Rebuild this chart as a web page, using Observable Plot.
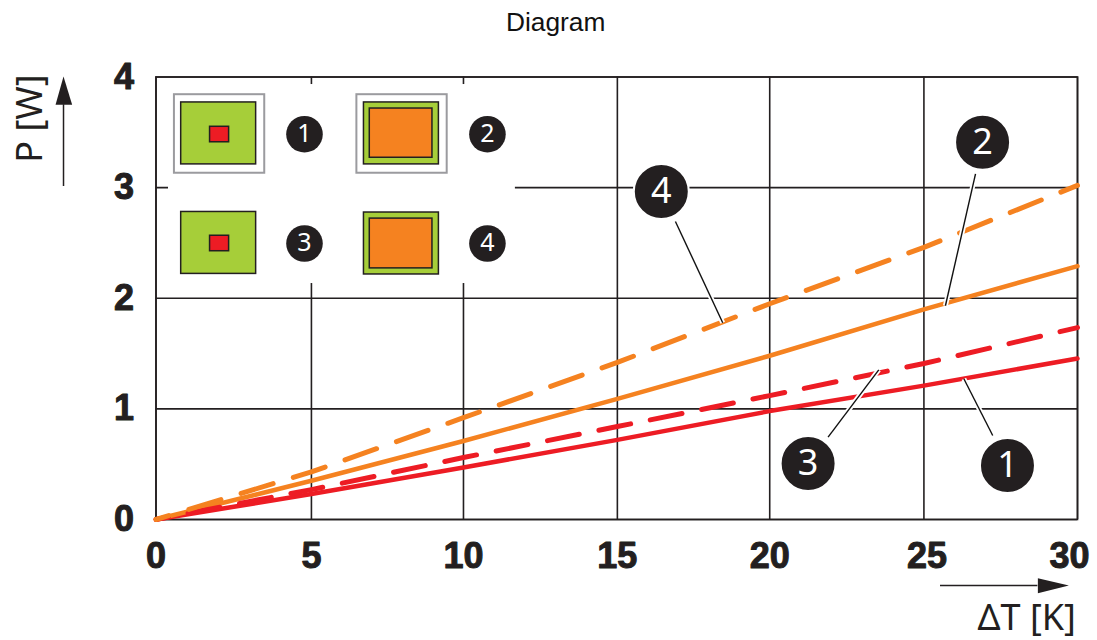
<!DOCTYPE html>
<html><head><meta charset="utf-8">
<script src="https://cdn.jsdelivr.net/npm/d3@7"></script>
<script src="https://cdn.jsdelivr.net/npm/@observablehq/plot@0.6"></script>
<style>
html,body{margin:0;padding:0;background:#fff;overflow:hidden}
#title{height:40px;padding-left:506px;font:26.3px/44px "Liberation Sans",Arial,sans-serif;color:#111;box-sizing:border-box}
svg{display:block}
</style></head><body>
<div id="title">Diagram</div>
<div id="chart"></div>
<script>
const deltaT = [0, 5, 10, 15, 20, 25, 30];
const xGridAsDrawn = [0, 5.06, 10.01, 15.02, 19.98, 25, 30];
const curve1 = [0, 0.23, 0.47, 0.72, 0.98, 1.21, 1.455];
const curve2 = [0, 0.35, 0.71, 1.09, 1.48, 1.90, 2.29];
const curve3 = [0, 0.27, 0.56, 0.84, 1.12, 1.41, 1.735];
const curve4 = [0, 0.43, 0.92, 1.42, 1.95, 2.46, 3.02];
const yTicks = [0, 1, 2, 3, 4];

const dark = "#231f20", red = "#ed1c24", orange = "#f58220", green = "#a6ce39", grey = "#9b9b9f";
const ser = v => deltaT.map((x, i) => ({x: xGridAsDrawn[i], y: v[i]}));

// inset legend, in chart units
const outerBoxes = [{x1: 0.60, x2: 3.54, y1: 3.13, y2: 3.84}, {x1: 6.54, x2: 9.48, y1: 3.13, y2: 3.84}];
const boardBoxes = [
  {x1: 0.82, x2: 3.26, y1: 3.21, y2: 3.77}, {x1: 6.77, x2: 9.21, y1: 3.21, y2: 3.77},
  {x1: 0.82, x2: 3.26, y1: 2.22, y2: 2.78}, {x1: 6.77, x2: 9.21, y1: 2.215, y2: 2.775}];
const chipBoxes = [
  {x1: 1.76, x2: 2.38, y1: 3.41, y2: 3.55, c: red}, {x1: 6.96, x2: 9.0, y1: 3.27, y2: 3.715, c: orange},
  {x1: 1.76, x2: 2.38, y1: 2.425, y2: 2.565, c: red}, {x1: 6.96, x2: 9.0, y1: 2.27, y2: 2.72, c: orange}];
const legendMask = [{x1: 0.407, x2: 11.7, y1: 2.133, y2: 3.932}];
const legendBadges = [
  {x: 4.834, y: 3.483, t: "1"}, {x: 10.79, y: 3.483, t: "2"},
  {x: 4.834, y: 2.495, t: "3"}, {x: 10.79, y: 2.495, t: "4"}];
const callouts = [
  {x: 27.72, y: 0.488, t: "1"}, {x: 26.91, y: 3.41, t: "2"},
  {x: 21.23, y: 0.506, t: "3"}, {x: 16.45, y: 2.965, t: "4"}];
const leaders = [
  {x1: 27.24, y1: 0.759, x2: 26.30, y2: 1.272}, {x1: 26.68, y1: 3.125, x2: 25.70, y2: 1.932},
  {x1: 21.88, y1: 0.744, x2: 23.53, y2: 1.353}, {x1: 16.91, y1: 2.694, x2: 18.45, y2: 1.778}];
const yArrowHead = [{x: -3.27, y: 3.75}, {x: -3.011, y: 4.005}, {x: -2.73, y: 3.75}];
const xArrowHead = [{x: 28.71, y: -0.531}, {x: 29.72, y: -0.597}, {x: 28.71, y: -0.666}];

const rectOf = (d, o) => Plot.rect(d, {x1: "x1", x2: "x2", y1: "y1", y2: "y2", ...o});
const lineOf = (v, o) => Plot.line(ser(v), {x: "x", y: "y", strokeWidth: 4.5, ...o});
const tickOpts = {tickSize: 0, fontSize: 36, fontWeight: 700, textStroke: dark, textStrokeWidth: 1, fill: dark, label: null, tickFormat: "d"};

const chart = Plot.plot({
  width: 1097, height: 600,
  marginLeft: 155.5, marginRight: 20, marginTop: 36.5, marginBottom: 121,
  style: {fontFamily: "'Liberation Sans',Arial,sans-serif", background: "#fff", overflow: "visible"},
  x: {domain: [0, 30]},
  y: {domain: [0, 4]},
  marks: [
    Plot.ruleX(xGridAsDrawn, {stroke: dark, strokeWidth: 1.6}),
    Plot.ruleY(yTicks, {stroke: dark, strokeWidth: 1.6}),
    rectOf(legendMask, {fill: "#fff"}),
    Plot.frame({stroke: dark, strokeWidth: 1.6}),
    Plot.axisX({...tickOpts, ticks: xGridAsDrawn.slice(0, 5), tickPadding: 23}),
    Plot.axisX({...tickOpts, ticks: [25], tickPadding: 23, dx: 3}),
    Plot.axisX({...tickOpts, ticks: [30], tickPadding: 23, dx: -8}),
    Plot.axisY({...tickOpts, ticks: yTicks, tickPadding: 22}),

    lineOf(curve1, {stroke: red}),
    lineOf(curve2, {stroke: orange}),
    lineOf(curve3, {stroke: red, strokeWidth: 5, strokeDasharray: "32.4 20", strokeLinecap: "round", strokeDashoffset: 19.8}),
    lineOf(curve4, {stroke: orange, strokeWidth: 5, strokeDasharray: "33.5 21.1", strokeLinecap: "round", strokeDashoffset: 20.2}),

    Plot.link(leaders, {x1: "x1", y1: "y1", x2: "x2", y2: "y2", stroke: "#fff", strokeWidth: 5}),
    Plot.link(leaders, {x1: "x1", y1: "y1", x2: "x2", y2: "y2", stroke: "#111", strokeWidth: 1.4}),

    rectOf(outerBoxes, {fill: "#fff", stroke: grey, strokeWidth: 2}),
    rectOf(boardBoxes, {fill: green, stroke: dark, strokeWidth: 1.5}),
    rectOf(chipBoxes, {fill: "c", stroke: dark, strokeWidth: 1.5}),

    Plot.dot(legendBadges, {x: "x", y: "y", r: 18.3, fill: dark}),
    Plot.text(legendBadges, {x: "x", y: "y", text: "t", fill: "#fff", fontSize: 25, fontFamily: "'Noto Sans'"}),
    Plot.dot(callouts, {x: "x", y: "y", r: 27.5, fill: dark, stroke: "#fff", strokeWidth: 2}),
    Plot.text(callouts, {x: "x", y: "y", text: "t", fill: "#fff", fontSize: 36, fontFamily: "'Noto Sans'"}),

    Plot.ruleX([-3.011], {y1: 3.01, y2: 3.75, stroke: dark, strokeWidth: 1.5}),
    Plot.line(yArrowHead, {x: "x", y: "y", fill: dark, stroke: "none"}),
    Plot.ruleY([-0.597], {x1: 25.54, x2: 28.71, stroke: dark, strokeWidth: 1.5}),
    Plot.line(xArrowHead, {x: "x", y: "y", fill: dark, stroke: "none"}),
    Plot.text(["P [W]"], {x: -4.085, y: 3.625, text: d => d, rotate: -90, fontSize: 36, fill: dark, fontFamily: "'Noto Sans'"}),
    Plot.text(["ΔT [K]"], {x: 29.95, y: -0.895, text: d => d, textAnchor: "end", fontSize: 36, fill: dark, fontFamily: "'Noto Sans'"})
  ]
});
document.getElementById("chart").append(chart);
</script>
</body></html>
